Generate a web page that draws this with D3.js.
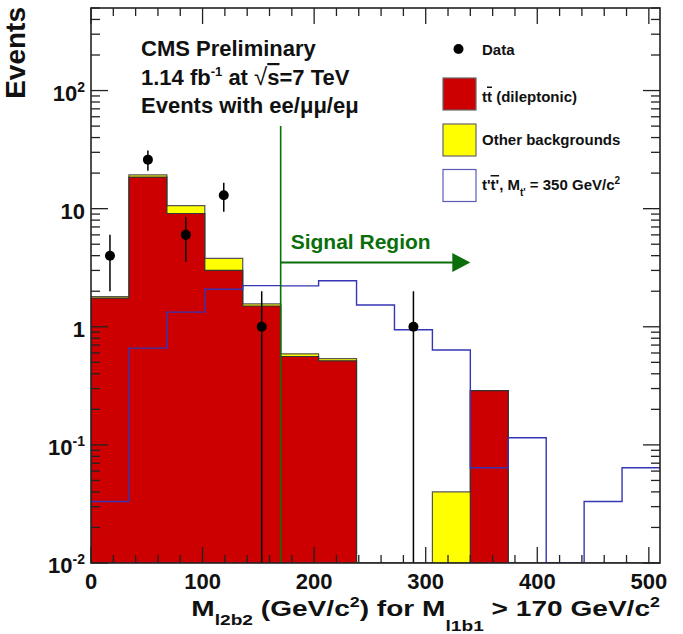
<!doctype html>
<html>
<head>
<meta charset="utf-8">
<script src="https://cdn.jsdelivr.net/npm/d3@7"></script>
<style>
    html, body { margin: 0; padding: 0; background: #fff; }
    svg text { font-family: "Liberation Sans", Arial, Helvetica, sans-serif; font-weight: bold; fill: #111; }
</style>
</head>
<body>
<svg id="chart" width="683" height="634"></svg>
<script>
    // bins of 34 GeV, lower edges
    var binLow = [0, 34, 68, 102, 136, 170, 204, 238, 272, 306, 340, 374, 408, 442, 476];
    var xMax = 510;
    var ttbar  = [1.75, 18.5, 9.1, 3.0, 1.5, 0.56, 0.515, 0, 0, 0, 0.288, 0, 0, 0, 0];
    var other  = [0.05, 0.8, 1.5, 0.8, 0.06, 0.03, 0.022, 0, 0, 0.04, 0, 0, 0, 0, 0];
    var signal = [0.0332, 0.66, 1.33, 2.08, 2.23, 2.22, 2.45, 1.53, 0.944, 0.635, 0.064, 0.115, 0, 0.0332, 0.064];

    var dataX   = [17, 51, 85, 119, 153, 289];
    var dataY   = [4, 26, 6, 13, 1, 1];
    var dataErr = [2, 5.1, 2.45, 3.6, 1, 1];

    var xTicks = [0, 100, 200, 300, 400, 500];
    var yTicks = [0.01, 0.1, 1, 10, 100];
    var yTickLabels = [["10", "-2"], ["10", "-1"], ["1", null], ["10", null], ["10", "2"]];

    var cut = 170, arrowEnd = 340, arrowY = 3.5, cutTop = 50;

    var svg = d3.select("#chart");
    var x = d3.scaleLinear().domain([0, xMax]).range([91, 660]);
    var y = d3.scaleLog().domain([0.01, 500]).range([563, 8]);
    var yMin = 0.01;

    svg.append("defs").append("clipPath").attr("id", "plot")
        .append("rect").attr("x", x(0)).attr("y", y(500))
        .attr("width", x(xMax) - x(0)).attr("height", y(yMin) - y(500));

    var plot = svg.append("g").attr("clip-path", "url(#plot)");

    function steps(vals){
        var pts = binLow.map(function(b, i){ return [b, vals[i]]; });
        pts.push([xMax, vals[vals.length - 1]]);
        return pts;
    }
    var cy = function(v){ return y(Math.max(v, yMin)); };
    var area = d3.area().x(function(d){ return x(d[0]); })
        .y0(y(yMin)).y1(function(d){ return cy(d[1]); }).curve(d3.curveStepAfter);
    var line = d3.line().x(function(d){ return x(d[0]); })
        .y(function(d){ return cy(d[1]); }).curve(d3.curveStepAfter);

    var total = ttbar.map(function(v, i){ return v + other[i]; });

    // stack: total (yellow) then ttbar (red)
    plot.append("path").attr("d", area(steps(total))).attr("fill", "#ffff00");
    plot.append("path").attr("d", line(steps(total))).attr("fill", "none").attr("stroke", "#555").attr("stroke-width", 1.2);
    plot.append("path").attr("d", area(steps(ttbar))).attr("fill", "#cc0000");
    plot.append("path").attr("d", line(steps(ttbar))).attr("fill", "none").attr("stroke", "#333").attr("stroke-width", 1.2);

    // signal t't'bar
    plot.append("path").attr("d", line(steps(signal))).attr("fill", "none")
        .attr("stroke", "#3535b5").attr("stroke-width", 1.4);

    // signal region marker
    var green = "#0a6f0a";
    plot.append("line").attr("x1", x(cut)).attr("x2", x(cut)).attr("y1", y(cutTop)).attr("y2", y(yMin))
        .attr("stroke", green).attr("stroke-width", 1.6);
    plot.append("line").attr("x1", x(cut)).attr("x2", x(arrowEnd) - 12).attr("y1", y(arrowY)).attr("y2", y(arrowY))
        .attr("stroke", green).attr("stroke-width", 2);
    var ax = x(arrowEnd), ay = y(arrowY);
    plot.append("path").attr("d", "M" + ax + "," + ay + "L" + (ax - 18) + "," + (ay - 9.5) + "L" + (ax - 18) + "," + (ay + 9.5) + "Z")
        .attr("fill", green);
    svg.append("text").attr("x", x(cut) + 10).attr("y", y(arrowY) - 14)
        .style("font-size", "21px").style("fill", green).text("Signal Region");

    // data points
    var pts = plot.append("g");
    dataX.forEach(function(dx, i){
        pts.append("line").attr("x1", x(dx)).attr("x2", x(dx))
            .attr("y1", cy(dataY[i] - dataErr[i])).attr("y2", y(dataY[i] + dataErr[i]))
            .attr("stroke", "#000").attr("stroke-width", 1.5);
        pts.append("circle").attr("cx", x(dx)).attr("cy", y(dataY[i])).attr("r", 5).attr("fill", "#000");
    });

    // ticks
    var tk = svg.append("g").attr("stroke", "#222").attr("stroke-width", 1.3);
    d3.range(0, xMax + 1, 20).forEach(function(v){
        var len = v % 100 === 0 ? 16 : 8;
        tk.append("line").attr("x1", x(v)).attr("x2", x(v)).attr("y1", y(yMin)).attr("y2", y(yMin) - len);
        tk.append("line").attr("x1", x(v)).attr("x2", x(v)).attr("y1", y(500)).attr("y2", y(500) + len);
    });
    yTicks.forEach(function(d){
        for (var m = 1; m <= 9; m++){
            var v = d * m;
            if (v > 500) break;
            var len = m === 1 ? 17 : 9;
            tk.append("line").attr("x1", x(0)).attr("x2", x(0) + len).attr("y1", y(v)).attr("y2", y(v));
            tk.append("line").attr("x1", x(xMax)).attr("x2", x(xMax) - len).attr("y1", y(v)).attr("y2", y(v));
        }
    });

    svg.append("rect").attr("x", x(0)).attr("y", y(500))
        .attr("width", x(xMax) - x(0)).attr("height", y(yMin) - y(500))
        .attr("fill", "none").attr("stroke", "#222").attr("stroke-width", 1.6);

    // tick labels
    xTicks.forEach(function(v){
        svg.append("text").attr("x", x(v)).attr("y", 589).attr("text-anchor", "middle")
            .style("font-size", "22px").text(v);
    });
    yTicks.forEach(function(v, i){
        var lab = yTickLabels[i];
        var t = svg.append("text").attr("x", 85).attr("y", y(v) + 10).attr("text-anchor", "end")
            .style("font-size", "22px");
        t.append("tspan").text(lab[0]);
        if (lab[1]) t.append("tspan").attr("dy", -9).style("font-size", "14px").text(lab[1]);
    });

    // axis titles
    svg.append("text").attr("transform", "translate(25,7) rotate(-90)").attr("text-anchor", "end")
        .style("font-size", "28px").text("Events");

    var xt = svg.append("text").attr("x", 660).attr("y", 616).attr("text-anchor", "end").style("font-size", "22px");
    xt.append("tspan").text("M");
    xt.append("tspan").attr("dy", 9).style("font-size", "15px").text("l2b2");
    xt.append("tspan").attr("dy", -9).text(" (GeV/c");
    xt.append("tspan").attr("dy", -9).style("font-size", "14px").text("2");
    xt.append("tspan").attr("dy", 9).text(") for M");
    xt.append("tspan").attr("dy", 15).style("font-size", "15px").text("l1b1");
    xt.append("tspan").attr("dy", -15).text(" > 170 GeV/c");
    xt.append("tspan").attr("dy", -9).style("font-size", "14px").text("2");
    // the title in the original is drawn wide: stretch it to span x = 191..660
    var tw = xt.node().getBBox().width;
    var sx = (660 - 191) / tw;
    xt.attr("transform", "translate(660,0) scale(" + sx + ",1) translate(-660,0)");

    // CMS text block
    svg.append("text").attr("x", 141).attr("y", 56).style("font-size", "22px").text("CMS Preliminary");
    var l2 = svg.append("text").attr("x", 141).attr("y", 85).style("font-size", "22px");
    l2.append("tspan").text("1.14 fb");
    l2.append("tspan").attr("dy", -9).style("font-size", "13px").text("-1");
    l2.append("tspan").attr("dy", 9).text(" at  ");
    l2.append("tspan").style("font-weight", "normal").style("font-size", "24px").text("\u221A");
    l2.append("tspan").style("text-decoration", "overline").text("s");
    l2.append("tspan").text("=7 TeV");
    svg.append("text").attr("x", 141).attr("y", 113).style("font-size", "22px").text("Events with ee/\u03bc\u03bc/e\u03bc");

    // legend
    var lg = svg.append("g");
    lg.append("circle").attr("cx", 458.5).attr("cy", 49).attr("r", 5).attr("fill", "#000");
    lg.append("text").attr("x", 482).attr("y", 54.5).style("font-size", "15px").text("Data");

    lg.append("rect").attr("x", 443).attr("y", 78).attr("width", 33).attr("height", 32)
        .attr("fill", "#cc0000").attr("stroke", "#666").attr("stroke-width", 1.2);
    var t1 = lg.append("text").attr("x", 482).attr("y", 101.5).style("font-size", "15px");
    t1.append("tspan").text("t");
    t1.append("tspan").style("text-decoration", "overline").text("t");
    t1.append("tspan").text(" (dileptonic)");

    lg.append("rect").attr("x", 443).attr("y", 124).attr("width", 33).attr("height", 32)
        .attr("fill", "#ffff00").attr("stroke", "#666").attr("stroke-width", 1.2);
    lg.append("text").attr("x", 482).attr("y", 145).style("font-size", "15px").text("Other backgrounds");

    lg.append("rect").attr("x", 443).attr("y", 169.5).attr("width", 33).attr("height", 32)
        .attr("fill", "#fff").attr("stroke", "#5a5abb").attr("stroke-width", 1.2);
    var t3 = lg.append("text").attr("x", 482).attr("y", 190).style("font-size", "15px");
    t3.append("tspan").text("t'");
    t3.append("tspan").style("text-decoration", "overline").text("t'");
    t3.append("tspan").text(", M");
    t3.append("tspan").attr("dy", 6).style("font-size", "10px").text("t'");
    t3.append("tspan").attr("dy", -6).text(" = 350 GeV/c");
    t3.append("tspan").attr("dy", -6).style("font-size", "10px").text("2");
</script>
</body>
</html>
